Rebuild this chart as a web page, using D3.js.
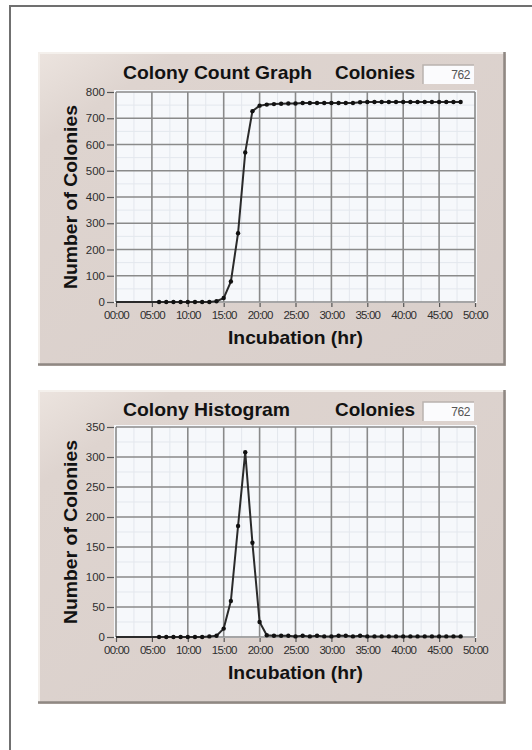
<!DOCTYPE html>
<html lang="en">
<head>
<meta charset="UTF-8">
<title>Colony Count</title>
<script src="https://d3js.org/d3.v7.min.js"></script>
<style>
    body { margin: 0; background: #fff; }
    svg { display: block; font-family: "Liberation Sans", Arial, sans-serif; }
</style>
</head>
<body>
<svg width="532" height="750"></svg>
<script>
    // hours with a reading (first reading at 0, then hourly from 6 h to 48 h)
    const hours = [0].concat(d3.range(6, 49));

    // cumulative colony count per hour
    const countValues = [0,
        0, 0, 0, 0, 0, 0, 0, 0,                               // 6-13
        3, 15, 78, 262, 570, 727, 748, 752, 754, 755, 756, 756, // 14-25
        758, 758, 758, 758, 758, 758, 758, 758,               // 26-33
        761,                                                  // 34
        762, 762, 762, 762, 762, 762, 762, 762, 762, 762, 762, 762, 762, 762]; // 35-48

    // colonies detected per hour
    const histValues = [0,
        0, 0, 0, 0, 0, 0, 0,                                  // 6-12
        1, 2, 14, 60, 185, 308, 157, 25, 3,                   // 13-21
        2, 2, 2, 1, 2, 1, 2, 1, 1, 2, 2, 1, 2,                // 22-34
        1, 1, 1, 1, 1, 1, 1, 1, 1, 1, 1, 1, 1, 1];            // 35-48

    const xTicks = d3.range(0, 51, 5);
    const xTickLabels = ["00:00", "05:00", "10:00", "15:00", "20:00", "25:00",
        "30:00", "35:00", "40:00", "45:00", "50:00"];
    const countTicks = d3.range(0, 801, 100);
    const histTicks = d3.range(0, 351, 50);
    const totalColonies = 762;

    const svg = d3.select("svg");
    svg.append("rect").attr("width", 532).attr("height", 750).attr("fill", "#fff");

    // page frame (only top and left edges fall inside the picture)
    svg.append("path")
        .attr("d", "M10,750 V6 H532")
        .attr("fill", "none").attr("stroke", "#707070").attr("stroke-width", 2);

    const defs = svg.append("defs");
    const grad = defs.append("linearGradient").attr("id", "panelGrad")
        .attr("x1", 0).attr("y1", 0).attr("x2", 1).attr("y2", 1);
    grad.append("stop").attr("offset", "0%").attr("stop-color", "#ece4df");
    grad.append("stop").attr("offset", "15%").attr("stop-color", "#ded4cf");
    grad.append("stop").attr("offset", "100%").attr("stop-color", "#d9cfcb");

    function boldText(g, txt, x, y, len, anchor) {
        return g.append("text").attr("x", x).attr("y", y)
            .attr("text-anchor", anchor || "start")
            .attr("textLength", len).attr("lengthAdjust", "spacingAndGlyphs")
            .style("font-size", "19px").style("font-weight", "bold").attr("fill", "#121212")
            .text(txt);
    }

    function drawPanel(cfg) {
        const g = svg.append("g");
        const px = 38, pw = 468, py = cfg.top, ph = cfg.height;

        // bevelled panel
        g.append("rect").attr("x", px).attr("y", py).attr("width", pw).attr("height", ph)
            .attr("fill", "url(#panelGrad)");
        g.append("path").attr("d", `M${px + 1},${py + ph} V${py + 1} H${px + pw}`)
            .attr("fill", "none").attr("stroke", "#f4f0ec").attr("stroke-width", 2);
        g.append("path").attr("d", `M${px},${py + ph - 1.5} H${px + pw - 1.5} V${py}`)
            .attr("fill", "none").attr("stroke", "#8f8883").attr("stroke-width", 2.5);

        const x = d3.scaleLinear().domain([0, 50]).range([116, 475]);
        const y = d3.scaleLinear().domain(cfg.yDomain).range([cfg.plotBottom, cfg.plotBottom - 210]);
        const yTop = y(cfg.yDomain[1]);

        // plot background
        g.append("rect")
            .attr("x", x(0) - 2).attr("y", yTop - 2)
            .attr("width", x(50) - x(0) + 4).attr("height", y(0) - yTop + 3)
            .attr("fill", "#f6f8fb");

        // minor grid
        const yStep = cfg.yTicks[1] - cfg.yTicks[0];
        g.append("g").selectAll("line").data(d3.range(2.5, 50, 5)).join("line")
            .attr("x1", d => x(d)).attr("x2", d => x(d))
            .attr("y1", y(0)).attr("y2", yTop)
            .attr("stroke", "#e3e7ed").attr("stroke-width", 1);
        g.append("g").selectAll("line").data(cfg.yTicks.slice(0, -1).map(d => d + yStep / 2)).join("line")
            .attr("x1", x(0)).attr("x2", x(50))
            .attr("y1", d => y(d)).attr("y2", d => y(d))
            .attr("stroke", "#e3e7ed").attr("stroke-width", 1);

        // major grid
        g.append("g").selectAll("line").data(xTicks).join("line")
            .attr("x1", d => x(d)).attr("x2", d => x(d))
            .attr("y1", y(0)).attr("y2", yTop)
            .attr("stroke", "#8a8a8a").attr("stroke-width", 1.6);
        g.append("g").selectAll("line").data(cfg.yTicks).join("line")
            .attr("x1", x(0)).attr("x2", x(50))
            .attr("y1", d => y(d)).attr("y2", d => y(d))
            .attr("stroke", "#8a8a8a").attr("stroke-width", 1.6);

        // axes
        const yAxis = g.append("g").attr("transform", `translate(${x(0) - 2},0)`)
            .call(d3.axisLeft(y).tickValues(cfg.yTicks).tickSize(7).tickPadding(2));
        const xAxis = g.append("g").attr("transform", `translate(0,${y(0) + 1})`)
            .call(d3.axisBottom(x).tickValues(xTicks).tickSize(4).tickPadding(4)
                .tickFormat((d, i) => xTickLabels[i]));
        [xAxis, yAxis].forEach(a => {
            a.select(".domain").remove();
            a.selectAll(".tick line").attr("stroke", "#555").attr("stroke-width", 1.2);
            a.selectAll(".tick text").attr("fill", "#2e2e2e")
                .style("font-size", "11.5px").style("font-family", "'Liberation Sans', Arial, sans-serif");
        });
        xAxis.selectAll(".tick text").style("letter-spacing", "-0.8px");

        // series line and markers
        const pts = hours.map((h, i) => [h, cfg.values[i]]);
        g.append("path").datum(pts)
            .attr("fill", "none").attr("stroke", "#2a2a2a").attr("stroke-width", 2)
            .attr("stroke-linejoin", "round")
            .attr("d", d3.line().x(d => x(d[0])).y(d => y(d[1])));
        g.append("g").selectAll("circle").data(pts.filter(d => d[0] > 0)).join("circle")
            .attr("cx", d => x(d[0])).attr("cy", d => y(d[1])).attr("r", 2.2)
            .attr("fill", "#111");

        // titles
        boldText(g, cfg.title, 123, cfg.titleY, cfg.titleLen);
        boldText(g, "Colonies", 335, cfg.titleY, 80);

        // readout box
        const bx = 423, by = cfg.titleY - 14, bw = 51, bh = 19;
        g.append("rect").attr("x", bx).attr("y", by).attr("width", bw).attr("height", bh)
            .attr("fill", "#fbfbfd");
        g.append("path").attr("d", `M${bx},${by + bh} V${by} H${bx + bw}`)
            .attr("fill", "none").attr("stroke", "#b9b3ae").attr("stroke-width", 1.5);
        g.append("text").attr("x", bx + bw - 4).attr("y", by + 14).attr("text-anchor", "end")
            .style("font-size", "12px").attr("fill", "#555")
            .style("letter-spacing", "-0.4px")
            .text(totalColonies);

        // axis titles
        boldText(g, "Incubation (hr)", (x(0) + x(50)) / 2, y(0) + 42, 135, "middle");
        boldText(g, "Number of Colonies", 0, 0, 184, "middle")
            .attr("x", null).attr("y", null)
            .attr("transform", `translate(77,${(y(0) + yTop) / 2}) rotate(-90)`);
    }

    drawPanel({
        top: 52, height: 314, plotBottom: 302, titleY: 79,
        yDomain: [0, 800], yTicks: countTicks, values: countValues,
        title: "Colony Count Graph", titleLen: 189
    });
    drawPanel({
        top: 390, height: 314, plotBottom: 637, titleY: 416,
        yDomain: [0, 350], yTicks: histTicks, values: histValues,
        title: "Colony Histogram", titleLen: 167
    });
</script>
</body>
</html>
